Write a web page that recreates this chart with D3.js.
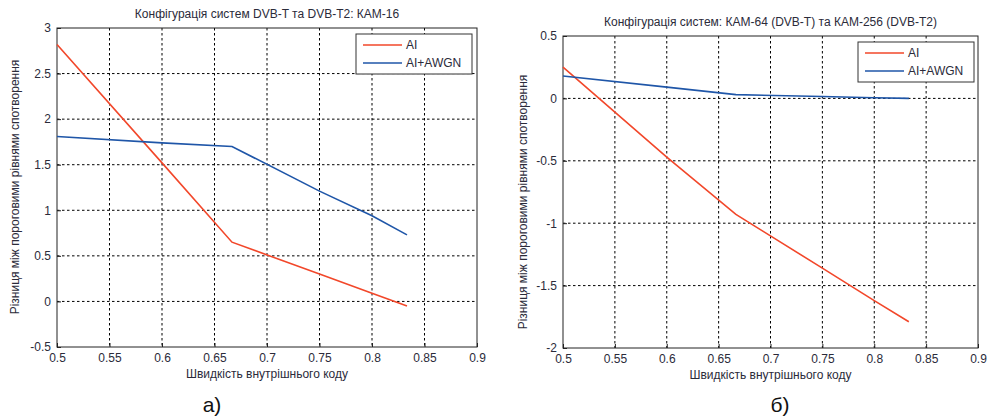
<!DOCTYPE html>
<html>
<head>
<meta charset="utf-8">
<script src="https://cdn.jsdelivr.net/npm/d3@7"></script>
<style>
body { margin: 0; background: #fff; }
text { font-family: "Liberation Sans", Arial, sans-serif; fill: #2b2b3a; }
</style>
</head>
<body>
<script>
// code rates (x) shared by both panels
var codeRates = [1/2, 3/5, 2/3, 3/4, 4/5, 5/6];
var seriesNames = ["AI", "AI+AWGN"];

// panel a) KAM-16
var aAI = [2.82, 1.52, 0.65, 0.30, 0.09, -0.05];
var aAWGN = [1.81, 1.74, 1.70, 1.21, 0.94, 0.73];
// panel b) KAM-64 / KAM-256
var bAI = [0.25, -0.47, -0.93, -1.36, -1.62, -1.79];
var bAWGN = [0.18, 0.09, 0.03, 0.015, 0.005, 0.0];

var xTicks = [0.5, 0.55, 0.6, 0.65, 0.7, 0.75, 0.8, 0.85, 0.9];
var aYTicks = [-0.5, 0, 0.5, 1, 1.5, 2, 2.5, 3];
var bYTicks = [-2, -1.5, -1, -0.5, 0, 0.5];

var titles = ["Конфігурація систем DVB-T та DVB-T2: КАМ-16",
              "Конфігурація систем: КАМ-64 (DVB-T) та КАМ-256 (DVB-T2)"];
var xLabel = "Швидкість внутрішнього коду";
var yLabel = "Різниця між пороговими рівнями спотворення";
var captions = ["а)", "б)"];

var colors = ["#f2472a", "#1f56a8"];

var svg = d3.select("body").append("svg")
    .attr("width", 995).attr("height", 417);

function fmt(d) { return String(+d.toFixed(2)); }

function panel(cfg) {
    var x = d3.scaleLinear().domain([0.5, 0.9]).range([cfg.left, cfg.right]);
    var y = d3.scaleLinear().domain(cfg.yDomain).range([cfg.bottom, cfg.top]);
    var g = svg.append("g");

    // grid
    g.selectAll(".vg").data(xTicks.slice(1, -1)).enter().append("line")
        .attr("x1", function(d) { return x(d); }).attr("x2", function(d) { return x(d); })
        .attr("y1", cfg.top).attr("y2", cfg.bottom)
        .attr("stroke", "#000").attr("stroke-width", 1).attr("stroke-dasharray", "2.5,2.5");
    g.selectAll(".hg").data(cfg.yTicks.slice(1, -1)).enter().append("line")
        .attr("y1", function(d) { return y(d); }).attr("y2", function(d) { return y(d); })
        .attr("x1", cfg.left).attr("x2", cfg.right)
        .attr("stroke", "#000").attr("stroke-width", 1).attr("stroke-dasharray", "2.5,2.5");

    // axes (MATLAB style, ticks inside)
    var xa = g.append("g").attr("transform", "translate(0," + cfg.bottom + ")")
        .call(d3.axisBottom(x).tickValues(xTicks).tickSize(-4).tickPadding(6).tickFormat(fmt));
    var ya = g.append("g").attr("transform", "translate(" + cfg.left + ",0)")
        .call(d3.axisLeft(y).tickValues(cfg.yTicks).tickSize(-4).tickPadding(6).tickFormat(fmt));
    [xa, ya].forEach(function(a) {
        a.select(".domain").remove();
        a.selectAll("line").attr("stroke", "#222");
        a.selectAll("text").attr("font-size", 12).style("fill", "#2b2b3a")
            .attr("font-family", "Liberation Sans, Arial, sans-serif");
    });
    g.append("rect").attr("x", cfg.left).attr("y", cfg.top)
        .attr("width", cfg.right - cfg.left).attr("height", cfg.bottom - cfg.top)
        .attr("fill", "none").attr("stroke", "#222").attr("stroke-width", 1);

    // lines
    var line = d3.line()
        .x(function(d, i) { return x(codeRates[i]); })
        .y(function(d) { return y(d); });
    [cfg.ai, cfg.awgn].forEach(function(s, k) {
        g.append("path").attr("d", line(s)).attr("fill", "none")
            .attr("stroke", colors[k]).attr("stroke-width", 1.6);
    });

    // legend
    var lg = g.append("g").attr("transform", "translate(" + cfg.legX + "," + cfg.legY + ")");
    lg.append("rect").attr("width", 116).attr("height", 40)
        .attr("fill", "#fff").attr("stroke", "#333").attr("stroke-width", 1);
    seriesNames.forEach(function(n, k) {
        lg.append("line").attr("x1", 7).attr("x2", 46)
            .attr("y1", 11 + k * 18).attr("y2", 11 + k * 18)
            .attr("stroke", colors[k]).attr("stroke-width", 1.6);
        lg.append("text").attr("x", 50).attr("y", 15 + k * 18)
            .attr("font-size", 12).text(n);
    });

    // texts
    g.append("text").attr("x", (cfg.left + cfg.right) / 2).attr("y", cfg.titleY)
        .attr("text-anchor", "middle").attr("font-size", 12).text(cfg.title);
    g.append("text").attr("x", (cfg.left + cfg.right) / 2).attr("y", cfg.bottom + 31)
        .attr("text-anchor", "middle").attr("font-size", 12).text(xLabel);
    g.append("text").attr("transform", "translate(" + cfg.yLabX + "," + cfg.yLabY + ") rotate(-90)")
        .attr("text-anchor", "middle").attr("font-size", 12).text(yLabel);
    g.append("text").attr("x", cfg.capX).attr("y", 412)
        .attr("text-anchor", "middle").attr("font-size", 21)
        .attr("font-family", "Open Sans, sans-serif").style("fill", "#111").text(cfg.caption);
}

panel({ left: 57, right: 477, top: 28, bottom: 347, yDomain: [-0.5, 3], yTicks: aYTicks,
        ai: aAI, awgn: aAWGN, legX: 356, legY: 34, title: titles[0], titleY: 18,
        yLabX: 19, yLabY: 187, capX: 212, caption: captions[0] });
panel({ left: 563, right: 978, top: 36, bottom: 348, yDomain: [-2, 0.5], yTicks: bYTicks,
        ai: bAI, awgn: bAWGN, legX: 858, legY: 42, title: titles[1], titleY: 26,
        yLabX: 527, yLabY: 202, capX: 780, caption: captions[1] });
</script>
</body>
</html>
